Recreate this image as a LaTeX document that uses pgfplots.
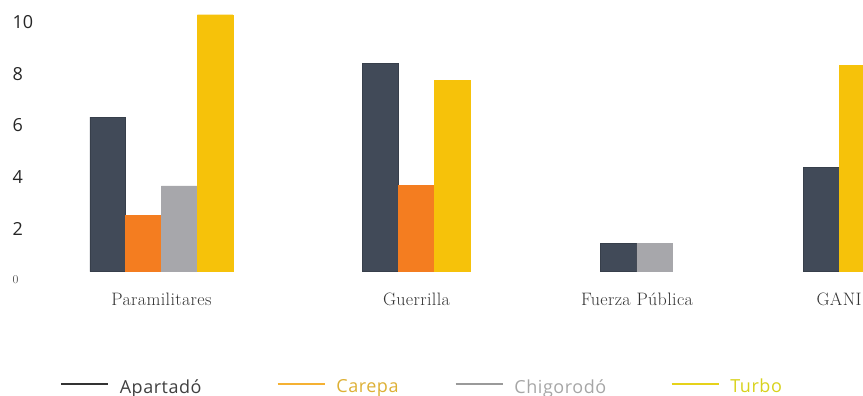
\documentclass[border=0pt]{standalone}
\usepackage{fontspec}
\usepackage{pgfplots}
\pgfplotsset{compat=1.18}
\newfontfamily\numfont{Open Sans}
\newfontfamily\legfont[LetterSpace=3]{Open Sans}
\newfontfamily\catfam[LetterSpace=2]{Latin Modern Roman}
\newcommand\cat[1]{{\catfam\fontsize{18}{21}\selectfont #1}}
\definecolor{cApa}{HTML}{414A58}
\definecolor{cCar}{HTML}{F47D20}
\definecolor{cChi}{HTML}{A7A7AB}
\definecolor{cTur}{HTML}{F6C20A}
\definecolor{lApa}{HTML}{333333}
\definecolor{lCar}{HTML}{F5B133}
\definecolor{lChi}{HTML}{9A9A9A}
\definecolor{lTur}{HTML}{E6D21A}
\definecolor{tApa}{HTML}{404040}
\definecolor{tCar}{HTML}{DDB035}
\definecolor{tChi}{HTML}{A6A6A6}
\definecolor{tTur}{HTML}{D8D21C}
\begin{document}
\begin{tikzpicture}
\begin{axis}[
  at={(0pt,124.3pt)}, anchor=south west,
  scale only axis, width=863pt, height=271.7pt,
  xmin=0, xmax=863, ymin=0, ymax=10.551,
  axis line style={draw=none}, major tick length=0pt,
  xtick={161.5,416.5,637,839},
  xticklabels={\cat{Paramilitares},\cat{Guerrilla},\cat{Fuerza Pública},\cat{GANI}},
  xticklabel style={color=black!80, inner sep=0pt, anchor=north, text height=12.5pt, text depth=3pt, yshift=-21.5pt},
  ytick={0,2,4,6,8,10},
  yticklabels={{\rmfamily\fontsize{12}{14}\selectfont\color{black!70}0},2,4,6,8,10},
  yticklabel style={font=\numfont\fontsize{18}{20}\selectfont, color=black!85, anchor=west, inner sep=0pt, xshift=12.5pt, yshift=-8.3pt},
  legend style={draw=none, fill=none, inner sep=0pt, at={(axis description cs:0.0695,-0.424)}, anchor=west, font=\legfont\fontsize{18}{20}\selectfont, legend columns=4, nodes={inner sep=0pt},
    /tikz/every odd column/.append style={column sep=11pt}},
  legend cell align=left,
]
\addplot[ybar, bar width=35.5, bar shift=0pt, fill=cApa, draw=cApa!85!black, forget plot] coordinates {(107.5,6.0) (380.3,8.09) (618.3,1.1) (821,4.04)};
\addplot[ybar, bar width=35.5, bar shift=0pt, fill=cCar, draw=cCar, forget plot] coordinates {(143,2.2) (416,3.34)};
\addplot[ybar, bar width=35.5, bar shift=0pt, fill=cChi, draw=cChi, forget plot] coordinates {(179,3.33) (654.5,1.1)};
\addplot[ybar, bar width=35.5, bar shift=0pt, fill=cTur, draw=cTur, forget plot] coordinates {(215,9.98) (452,7.44) (857,8.0)};
\addlegendimage{legend image code/.code={\draw[lApa, line width=1.6pt] (0pt,0.3em) -- (47pt,0.3em);}}
\addlegendentry{\makebox[157pt][l]{\color{tApa}Apartadó}}
\addlegendimage{legend image code/.code={\draw[lCar, line width=1.6pt] (0pt,0.3em) -- (47pt,0.3em);}}
\addlegendentry{\makebox[118.5pt][l]{\color{tCar}Carepa}}
\addlegendimage{legend image code/.code={\draw[lChi, line width=1.6pt] (0pt,0.3em) -- (47pt,0.3em);}}
\addlegendentry{\makebox[156.3pt][l]{\color{tChi}Chigorodó}}
\addlegendimage{legend image code/.code={\draw[lTur, line width=1.6pt] (0pt,0.3em) -- (47pt,0.3em);}}
\addlegendentry{\color{tTur}Turbo}
\end{axis}
\pgfresetboundingbox
\path[use as bounding box] (0pt,0pt) rectangle (863pt,396pt);
\end{tikzpicture}
\end{document}
